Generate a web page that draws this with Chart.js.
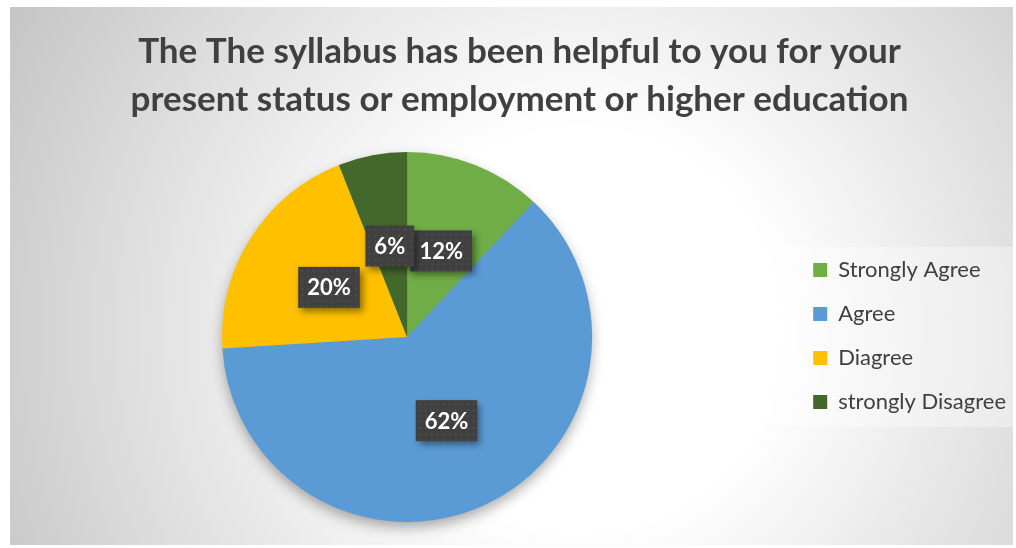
<!DOCTYPE html>
<html>
<head>
<meta charset="utf-8">
<script src="https://cdn.jsdelivr.net/npm/chart.js@4/dist/chart.umd.min.js"></script>
<style>
  html, body { margin: 0; padding: 0; background: #fff; }
  #wrap { width: 1016px; height: 548px; position: relative; }
</style>
</head>
<body>
<div id="wrap"><canvas id="syllabusPie"></canvas></div>
<script>
// values
const categories = ["Strongly Agree", "Agree", "Diagree", "strongly Disagree"];
const shares = [12, 62, 20, 6];
const sliceColors = ["#70AD47", "#5B9BD5", "#FFC000", "#43682B"];
const titleLines = [
  "The The syllabus has been helpful to you for your",
  "present status or employment or higher education"
];

// gradient frame + lighter legend panel
const backdrop = {
  id: "backdrop",
  beforeDraw(chart) {
    const ctx = chart.ctx;
    ctx.save();
    ctx.fillStyle = "#fff";
    ctx.fillRect(0, 0, chart.width, chart.height);
    const g = ctx.createRadialGradient(580, 330, 0, 580, 330, 660);
    g.addColorStop(0, "#ffffff");
    g.addColorStop(0.3, "#ffffff");
    g.addColorStop(1, "#c4c4c4");
    ctx.fillStyle = g;
    ctx.fillRect(10, 7, 1003, 538);

    const lg = chart.legend;
    const mid = (chart.chartArea.top + chart.chartArea.bottom) / 2;
    ctx.fillStyle = "rgba(255,255,255,0.35)";
    ctx.fillRect(lg.left - 13, mid - 90, 1013 - lg.left + 13, 180);
    ctx.restore();
  }
};

// soft drop shadow under the whole pie
const pieShadow = {
  id: "pieShadow",
  beforeDatasetsDraw(chart) {
    const arc = chart.getDatasetMeta(0).data[0];
    if (!arc) return;
    const ctx = chart.ctx;
    ctx.save();
    ctx.shadowColor = "rgba(0,0,0,0.35)";
    ctx.shadowBlur = 14;
    ctx.shadowOffsetY = 6;
    ctx.fillStyle = "#5B9BD5";
    ctx.beginPath();
    ctx.arc(arc.x, arc.y, arc.outerRadius - 1, 0, Math.PI * 2);
    ctx.fill();
    ctx.restore();
  }
};

// dark boxed percentage labels with a faint dotted texture
const boxLabels = {
  id: "boxLabels",
  afterDatasetsDraw(chart) {
    const ctx = chart.ctx;
    const meta = chart.getDatasetMeta(0);
    ctx.save();
    ctx.font = "bold 22px Lato";
    ctx.textAlign = "center";
    ctx.textBaseline = "middle";
    meta.data.forEach((arc, i) => {
      const p = arc.tooltipPosition();
      const txt = shares[i] + "%";
      const w = ctx.measureText(txt).width + 18;
      const h = 41;
      const x0 = p.x - w / 2, y0 = p.y - h / 2;
      ctx.shadowColor = "rgba(0,0,0,0.45)";
      ctx.shadowBlur = 7;
      ctx.shadowOffsetX = 3;
      ctx.shadowOffsetY = 4;
      ctx.fillStyle = "#404040";
      ctx.fillRect(x0, y0, w, h);
      ctx.shadowColor = "transparent";
      ctx.fillStyle = "rgba(255,255,255,0.07)";
      for (let yy = y0 + 3; yy < y0 + h - 1; yy += 6) {
        for (let xx = x0 + 3; xx < x0 + w - 1; xx += 6) {
          ctx.fillRect(xx, yy, 2, 2);
        }
      }
      ctx.fillStyle = "#ffffff";
      ctx.fillText(txt, p.x, p.y + 1);
    });
    ctx.restore();
  }
};

const ctx = document.getElementById("syllabusPie").getContext("2d");
new Chart(ctx, {
  type: "pie",
  data: {
    labels: categories,
    datasets: [{
      data: shares,
      backgroundColor: sliceColors,
      borderWidth: 0,
      hoverOffset: 0
    }]
  },
  options: {
    responsive: true,
    maintainAspectRatio: false,
    animation: false,
    layout: { padding: { left: 23, right: 0, top: 0, bottom: 26 } },
    plugins: {
      title: {
        display: true,
        text: titleLines,
        color: "#404040",
        font: { family: "Lato", size: 35, weight: "bold", lineHeight: 1.37 },
        padding: { top: 28, bottom: 28 }
      },
      legend: {
        position: "right",
        // blank legend title only pushes the items down
        title: { display: true, text: " ", font: { size: 10, lineHeight: 1 }, padding: { top: 140, bottom: 0 } },
        labels: {
          color: "#404040",
          font: { family: "Lato", size: 22 },
          boxWidth: 14,
          boxHeight: 14,
          padding: 22
        }
      },
      tooltip: { enabled: false }
    }
  },
  plugins: [backdrop, pieShadow, boxLabels]
});
</script>
</body>
</html>
